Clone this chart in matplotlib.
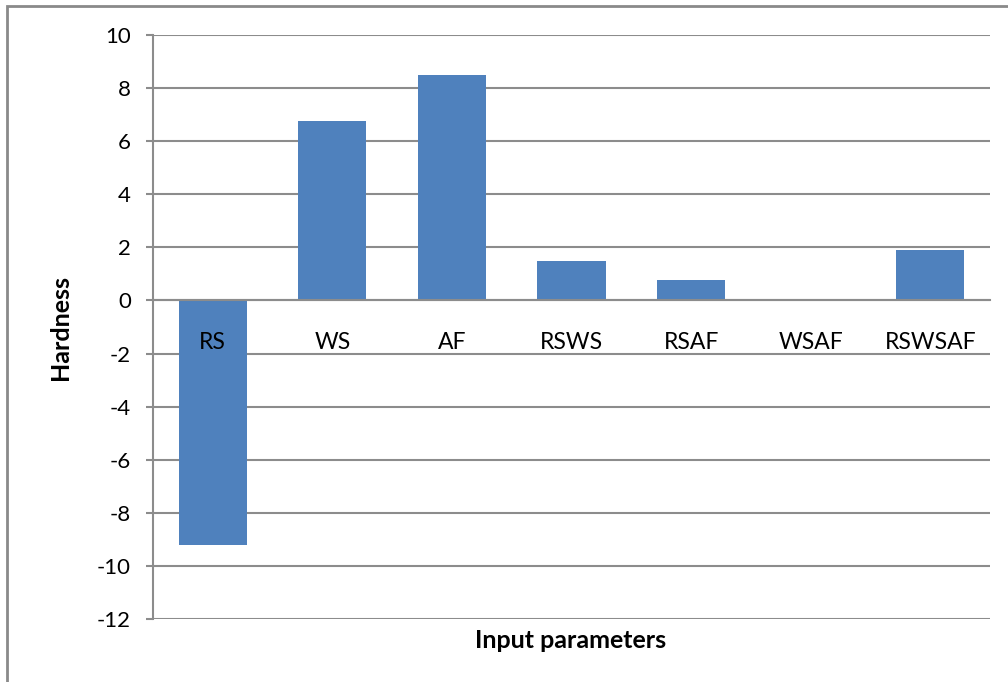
import matplotlib.pyplot as plt
from matplotlib.patches import Rectangle

# data
params = ['RS', 'WS', 'AF', 'RSWS', 'RSAF', 'WSAF', 'RSWSAF']
hardness = [-9.2, 6.75, 8.5, 1.5, 0.77, 0.0, 1.9]
yticks = list(range(-12, 11, 2))

plt.rcParams['font.family'] = ['Lato', 'DejaVu Sans']

fig = plt.figure(figsize=(10.08, 6.82), dpi=100)
ax = fig.add_axes([153 / 1008, 1 - 619 / 682, (990 - 153) / 1008, (619 - 35) / 682])

grid_c = '#8c8c8c'
ax.bar(range(len(params)), hardness, width=0.57, color='#4F81BD', zorder=2)

ax.set_xlim(-0.5, len(params) - 0.5)
ax.set_ylim(-12, 10)
ax.set_yticks(yticks)
ax.set_yticklabels([str(v) for v in yticks], fontsize=16)
ax.yaxis.grid(True, color=grid_c, linewidth=1.5)
ax.tick_params(axis='y', length=5, width=1.5, color=grid_c, pad=11)
# grid behind bars, category labels in front of them
ax.yaxis.set_zorder(0.5)
ax.xaxis.set_zorder(4)

# category labels sit just under the zero line
ax.spines['bottom'].set_position(('data', 0))
ax.spines['bottom'].set_color(grid_c)
ax.spines['bottom'].set_linewidth(1.5)
ax.set_xticks(range(len(params)))
ax.set_xticklabels(params, fontsize=16.5)
ax.tick_params(axis='x', length=0, pad=23)

ax.spines['left'].set_color(grid_c)
ax.spines['left'].set_linewidth(1.5)
ax.spines['top'].set_visible(False)
ax.spines['right'].set_visible(False)

fig.text(571 / 1008, 1 - 640 / 682, 'Input parameters', ha='center', va='center',
         fontsize=18, fontweight='bold')
fig.text(60 / 1008, 1 - 327 / 682, 'Hardness', ha='center', va='center',
         rotation=90, fontsize=18, fontweight='bold')

# outer chart frame (runs off the right and bottom edges)
fig.patches.append(Rectangle((7 / 1008, -0.05), 1.1, 1 - 6 / 682 + 0.05,
                             transform=fig.transFigure, fill=False,
                             edgecolor='#8a8a8a', linewidth=2))

fig.savefig('out.png', dpi=100)
